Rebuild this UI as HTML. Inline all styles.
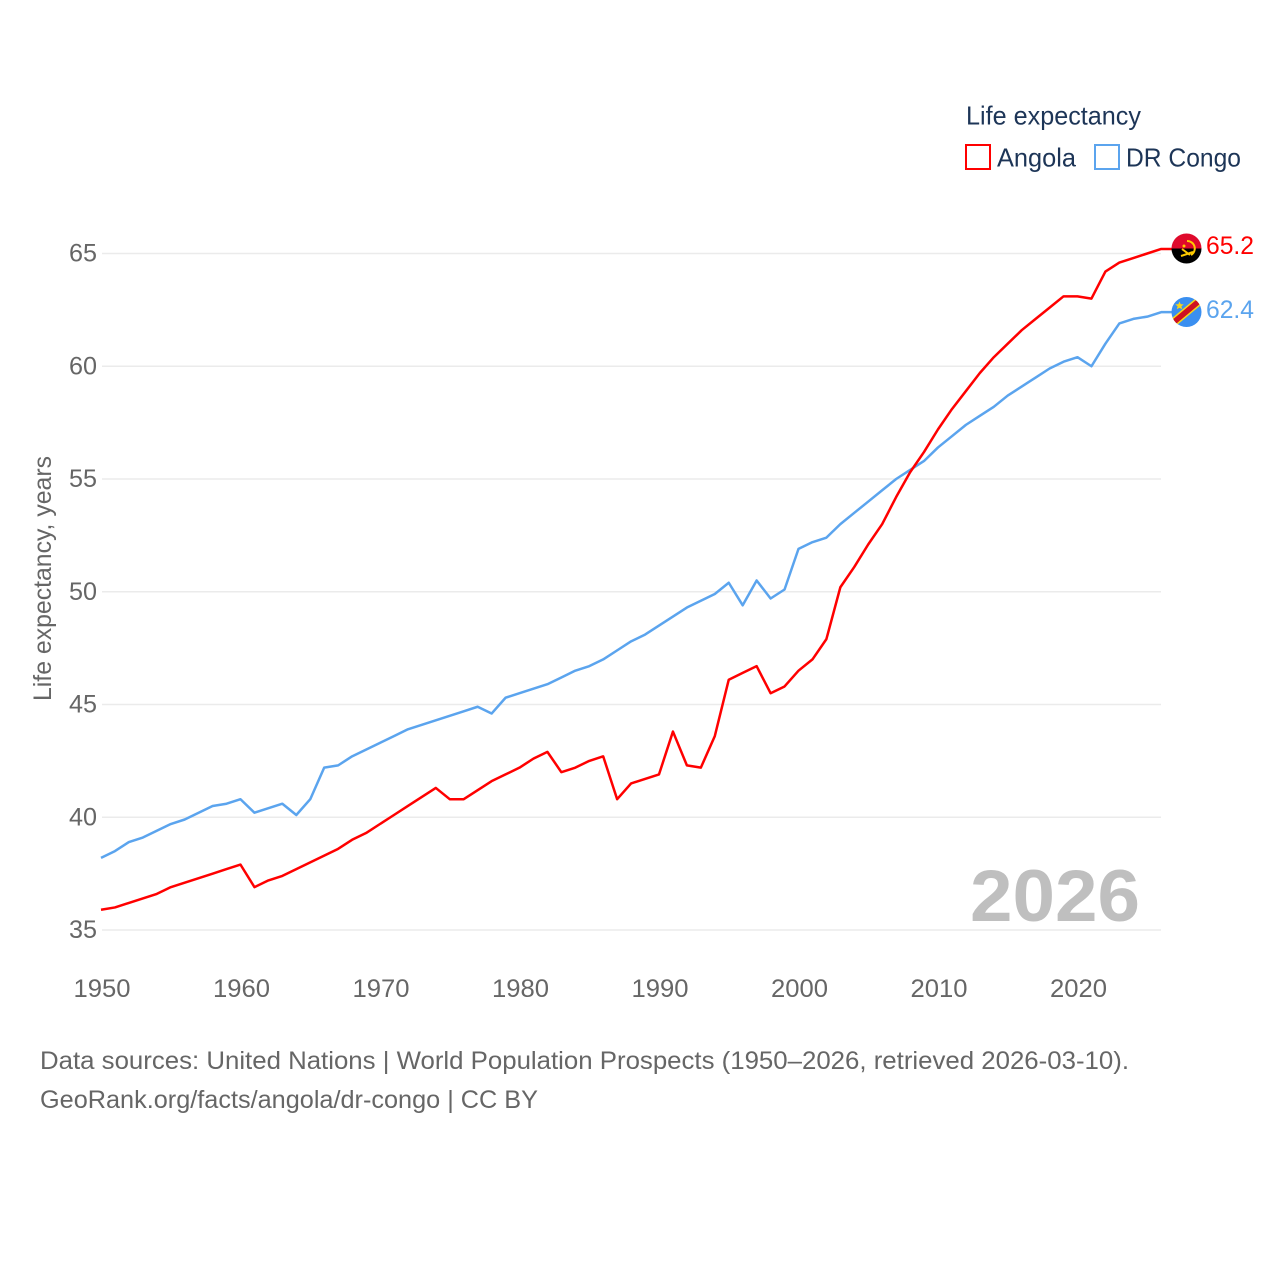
<!DOCTYPE html>
<html lang="en">
<head>
<meta charset="utf-8">
<title>Life expectancy: Angola vs DR Congo</title>
<style>
html,body{margin:0;padding:0;background:#fff;}
svg{display:block;}
text{font-family:"Liberation Sans",sans-serif;}
</style>
</head>
<body>
<svg id="chart" xmlns="http://www.w3.org/2000/svg" width="1280" height="1280" viewBox="0 0 1280 1280">
  <rect x="0" y="0" width="1280" height="1280" fill="#fff"/>
  <g id="grid"></g>
  <g id="yticks"></g>
  <g id="xticks"></g>
  <text transform="translate(51,701) rotate(-90)" font-size="25" fill="#666" textLength="245" lengthAdjust="spacingAndGlyphs">Life expectancy, years</text>
  <text x="970" y="921" font-size="73" font-weight="bold" fill="#bfbfbf" textLength="170" lengthAdjust="spacingAndGlyphs">2026</text>
  <g id="lines"></g>

  <g>
    <text x="966" y="124.5" font-size="26" fill="#1d3557" textLength="175" lengthAdjust="spacingAndGlyphs">Life expectancy</text>
    <g>
      <rect x="966" y="145" width="24" height="24" fill="#fff" stroke="#ff0000" stroke-width="2"/>
      <text x="997" y="166.5" font-size="26" fill="#1d3557" textLength="79" lengthAdjust="spacingAndGlyphs">Angola</text>
    </g>
    <g>
      <rect x="1095" y="145" width="24" height="24" fill="#fff" stroke="#5ba4ee" stroke-width="2"/>
      <text x="1126" y="166.5" font-size="26" fill="#1d3557" textLength="115" lengthAdjust="spacingAndGlyphs">DR Congo</text>
    </g>
  </g>

  <defs>
    <clipPath id="clip-ao"><circle cx="1186.5" cy="248.5" r="15"/></clipPath>
    <clipPath id="clip-cd"><circle cx="1186.5" cy="312" r="15"/></clipPath>
  </defs>
  <g id="flag-angola" clip-path="url(#clip-ao)">
    <rect x="1171" y="233" width="31" height="15.5" fill="#df0a2c"/>
    <rect x="1171" y="248.5" width="31" height="15.5" fill="#000"/>
    <path d="M1187 241 A7.5 7.5 0 0 1 1191 255" fill="none" stroke="#ffcb00" stroke-width="2"/>
    <path d="M1181 256 L1193 252" fill="none" stroke="#ffcb00" stroke-width="2"/>
    <path d="M1182 249 L1190 255" fill="none" stroke="#ffcb00" stroke-width="2"/>
    <circle cx="1184" cy="246" r="1.5" fill="#ffcb00"/>
  </g>
  <g id="flag-congo" clip-path="url(#clip-cd)">
    <rect x="1170" y="296" width="33" height="33" fill="#3a8ff0"/>
    <path d="M1168 327 L1204 297" stroke="#f7d618" stroke-width="8.5"/>
    <path d="M1168 327 L1204 297" stroke="#ce1021" stroke-width="5.5"/>
    <polygon points="1179.5,301.5 1180.7,304.2 1183.7,304.4 1181.4,306.4 1182.2,309.3 1179.5,307.7 1176.8,309.3 1177.6,306.4 1175.3,304.4 1178.3,304.2" fill="#f7d618"/>
  </g>
  <text id="value-angola" x="1206" y="254" font-size="25" fill="#ff0000" textLength="48" lengthAdjust="spacingAndGlyphs"></text>
  <text id="value-congo" x="1206" y="318" font-size="25" fill="#5ba4ee" textLength="48" lengthAdjust="spacingAndGlyphs"></text>

  <g>
    <text x="40" y="1069" font-size="25" fill="#666" textLength="1089" lengthAdjust="spacingAndGlyphs">Data sources: United Nations | World Population Prospects (1950–2026, retrieved 2026-03-10).</text>
    <text x="40" y="1108" font-size="25" fill="#666" textLength="498" lengthAdjust="spacingAndGlyphs">GeoRank.org/facts/angola/dr-congo | CC BY</text>
  </g>
</svg>
<script>
const startYear = 1950;
const xTickLabels = [1950, 1960, 1970, 1980, 1990, 2000, 2010, 2020];
const yTickLabels = [35, 40, 45, 50, 55, 60, 65];
const angolaValues = [
  35.9,36.0,36.2,36.4,36.6,36.9,37.1,37.3,37.5,37.7,
  37.9,36.9,37.2,37.4,37.7,38.0,38.3,38.6,39.0,39.3,
  39.7,40.1,40.5,40.9,41.3,40.8,40.8,41.2,41.6,41.9,
  42.2,42.6,42.9,42.0,42.2,42.5,42.7,40.8,41.5,41.7,
  41.9,43.8,42.3,42.2,43.6,46.1,46.4,46.7,45.5,45.8,
  46.5,47.0,47.9,50.2,51.1,52.1,53.0,54.2,55.3,56.2,
  57.2,58.1,58.9,59.7,60.4,61.0,61.6,62.1,62.6,63.1,
  63.1,63.0,64.2,64.6,64.8,65.0,65.2
];
const congoValues = [
  38.2,38.5,38.9,39.1,39.4,39.7,39.9,40.2,40.5,40.6,
  40.8,40.2,40.4,40.6,40.1,40.8,42.2,42.3,42.7,43.0,
  43.3,43.6,43.9,44.1,44.3,44.5,44.7,44.9,44.6,45.3,
  45.5,45.7,45.9,46.2,46.5,46.7,47.0,47.4,47.8,48.1,
  48.5,48.9,49.3,49.6,49.9,50.4,49.4,50.5,49.7,50.1,
  51.9,52.2,52.4,53.0,53.5,54.0,54.5,55.0,55.4,55.8,
  56.4,56.9,57.4,57.8,58.2,58.7,59.1,59.5,59.9,60.2,
  60.4,60.0,61.0,61.9,62.1,62.2,62.4
];

const NS = 'http://www.w3.org/2000/svg';
function xScale(year) { return 101 + (year - 1950) * 13.95; }
function yScale(v) { return 930 - (v - 35) * 22.55; }
function make(tag, attrs, parent) {
  const el = document.createElementNS(NS, tag);
  for (const k in attrs) el.setAttribute(k, attrs[k]);
  parent.appendChild(el);
  return el;
}

const gridGroup = document.getElementById('grid');
const yGroup = document.getElementById('yticks');
const xGroup = document.getElementById('xticks');
const lineGroup = document.getElementById('lines');

yTickLabels.forEach(function (v) {
  const line = make('line', { x1: 102, x2: 1161, y1: yScale(v), y2: yScale(v), stroke: '#ebebeb', 'stroke-width': 1.5 }, gridGroup);
  
  
  const label = make('text', { x: 97, y: yScale(v) + 8, 'text-anchor': 'end', 'font-size': 25, fill: '#666', textLength: 28, lengthAdjust: 'spacingAndGlyphs' }, yGroup);
  
  
  label.textContent = v;
});

xTickLabels.forEach(function (y) {
  const label = make('text', { x: xScale(y) + 1, y: 997, 'text-anchor': 'middle', 'font-size': 25, fill: '#666', textLength: 57, lengthAdjust: 'spacingAndGlyphs' }, xGroup);
  
  
  label.textContent = y;
});

function drawSeries(values, color) {
  const pts = values.map(function (v, i) { return xScale(startYear + i).toFixed(2) + ',' + yScale(v).toFixed(2); });
  const last = values[values.length - 1];
  pts.push('1172,' + yScale(last).toFixed(2));
  return make('polyline', { points: pts.join(' '), fill: 'none', stroke: color, 'stroke-width': 2.5, 'stroke-linejoin': 'round' }, lineGroup);
}
const congoLine = drawSeries(congoValues, '#5ba4ee');


const angolaLine = drawSeries(angolaValues, '#ff0000');



document.getElementById('value-angola').textContent = angolaValues[angolaValues.length - 1].toFixed(1);
document.getElementById('value-congo').textContent = congoValues[congoValues.length - 1].toFixed(1);
</script>
</body>
</html>
